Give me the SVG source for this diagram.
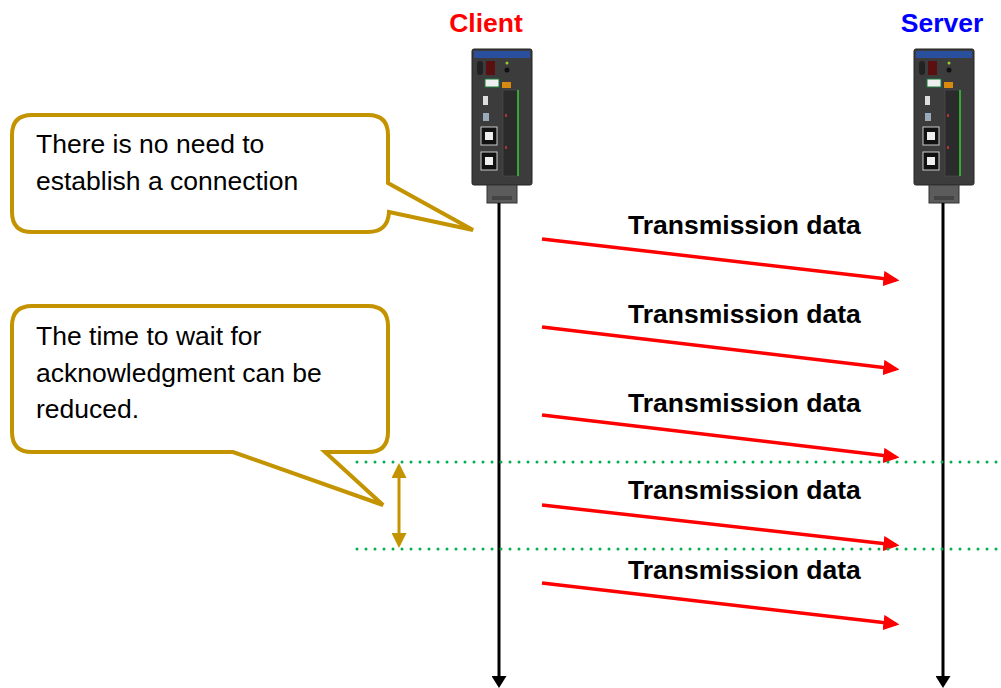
<svg xmlns="http://www.w3.org/2000/svg" width="1001" height="688" viewBox="0 0 1001 688">
  <style>
    .title { font-family: "Liberation Sans", Arial, sans-serif; font-size: 26.5px; font-weight: bold; text-anchor: middle; }
    .label { font-family: "Liberation Sans", Arial, sans-serif; font-size: 26.5px; font-weight: bold; fill: #000; }
    .note { font-family: "Liberation Sans", Arial, sans-serif; font-size: 26.5px; fill: #000; }
    .callout { fill: #fff; stroke: #c49400; stroke-width: 4; stroke-linejoin: miter; }
    .life { stroke: #000; stroke-width: 3; fill: none; }
    .msg { stroke: #ff0000; stroke-width: 3.5; fill: none; }
    .grid { stroke: #00b050; stroke-width: 3; stroke-dasharray: 0 9; stroke-linecap: round; }
    .body { fill: #3c3c3c; stroke: #222; stroke-width: 1; }
  </style>
  <defs>
    <marker id="redHead" markerWidth="4.6" markerHeight="4.4" refX="3.6" refY="2.2" orient="auto" markerUnits="strokeWidth">
      <path d="M0,0 L4.6,2.2 L0,4.4 z" fill="#ff0000"/>
    </marker>
    <marker id="blackHead" markerWidth="4" markerHeight="5" refX="3" refY="2.5" orient="auto" markerUnits="strokeWidth">
      <path d="M0,0 L4,2.5 L0,5 z" fill="#000"/>
    </marker>
    <marker id="goldHead" markerWidth="5" markerHeight="5" refX="4" refY="2.5" orient="auto-start-reverse" markerUnits="strokeWidth">
      <path d="M0,0 L5,2.5 L0,5 z" fill="#c49400"/>
    </marker>
    <!-- controller unit, origin at top-left of the housing -->
    <g id="device">
      <rect class="body" x="0" y="0" width="60" height="136" rx="2"/>
      <rect x="2" y="2" width="56" height="7" fill="#2a4f9c"/>
      <rect x="14" y="12" width="9" height="14" fill="#5a1010"/>
      <rect x="5" y="12" width="6" height="14" fill="#222" rx="3"/>
      <circle cx="35" cy="14" r="1.5" fill="#9c3"/>
      <circle cx="35" cy="21" r="2.5" fill="#111"/>
      <rect x="13" y="30" width="14" height="8" fill="#eee" stroke="#1a7a3a" stroke-width="1"/>
      <rect x="30" y="33" width="9" height="6" fill="#d88a10"/>
      <rect x="11" y="47" width="5" height="9" fill="#ddd"/>
      <rect x="11" y="64" width="6" height="8" fill="#9ab"/>
      <rect x="9" y="78" width="16" height="18" fill="#111" stroke="#ccc" stroke-width="1"/>
      <rect x="13" y="83" width="8" height="8" fill="#eee"/>
      <rect x="9" y="103" width="16" height="18" fill="#111" stroke="#ccc" stroke-width="1"/>
      <rect x="13" y="108" width="8" height="8" fill="#eee"/>
      <rect x="31" y="41" width="15" height="86" fill="#2b2b2b" stroke="#555" stroke-width="0.5"/>
      <line x1="46" y1="41" x2="46" y2="127" stroke="#3c3" stroke-width="1.5"/>
      <rect x="33" y="65" width="2" height="3" fill="#a33"/>
      <rect x="33" y="97" width="2" height="3" fill="#a33"/>
      <rect x="15" y="136" width="30" height="18" fill="#5c5c5c" stroke="#333" stroke-width="1"/>
      <rect x="20" y="147" width="20" height="4" fill="#444"/>
    </g>
  </defs>

  <!-- endpoint titles -->
  <g id="client-title"><text class="title" x="486" y="32" fill="#ff0000">Client</text></g>
  <g id="server-title"><text class="title" x="942" y="32" fill="#0000ff">Server</text></g>

  <!-- endpoint units -->
  <g id="client-unit"><use href="#device" x="472" y="49"/></g>
  <g id="server-unit"><use href="#device" x="914" y="49"/></g>

  <!-- connectors -->
  <g id="connectors">
    <line class="life" x1="499" y1="203" x2="499" y2="685" marker-end="url(#blackHead)"/>
    <line class="life" x1="943" y1="203" x2="943" y2="685" marker-end="url(#blackHead)"/>

    <line class="msg" x1="542" y1="239" x2="896" y2="280" marker-end="url(#redHead)"/>
    <line class="msg" x1="542" y1="327" x2="896" y2="369" marker-end="url(#redHead)"/>
    <line class="msg" x1="542" y1="415" x2="896" y2="457" marker-end="url(#redHead)"/>
    <line class="msg" x1="542" y1="505" x2="896" y2="545" marker-end="url(#redHead)"/>
    <line class="msg" x1="542" y1="583" x2="896" y2="624" marker-end="url(#redHead)"/>

    <line class="grid" x1="357" y1="462" x2="1001" y2="462"/>
    <line class="grid" x1="357" y1="549" x2="1001" y2="549"/>

    <line x1="399" y1="466" x2="399" y2="545" stroke="#c49400" stroke-width="3" marker-start="url(#goldHead)" marker-end="url(#goldHead)"/>
  </g>

  <!-- message labels -->
  <g id="labels">
    <text class="label" x="628" y="234">Transmission data</text>
    <text class="label" x="628" y="323">Transmission data</text>
    <text class="label" x="628" y="412">Transmission data</text>
    <text class="label" x="628" y="499">Transmission data</text>
    <text class="label" x="628" y="579">Transmission data</text>
  </g>

  <!-- callout: connectionless -->
  <g id="callout-connection">
    <path class="callout" d="M32,115 H368 Q388,115 388,135 V183 L473,230 L389,212 Q388,232 368,232 H32 Q12,232 12,212 V135 Q12,115 32,115 Z"/>
    <text class="note" x="36" y="153">There is no need to</text>
    <text class="note" x="36" y="190">establish a connection</text>
  </g>

  <!-- callout: acknowledgment wait -->
  <g id="callout-ack">
    <path class="callout" d="M32,306 H368 Q388,306 388,326 V432 Q388,452 368,452 H325 L383,505 L233,452 H32 Q12,452 12,432 V326 Q12,306 32,306 Z"/>
    <text class="note" x="36" y="345">The time to wait for</text>
    <text class="note" x="36" y="382">acknowledgment can be</text>
    <text class="note" x="36" y="418">reduced.</text>
  </g>
</svg>
